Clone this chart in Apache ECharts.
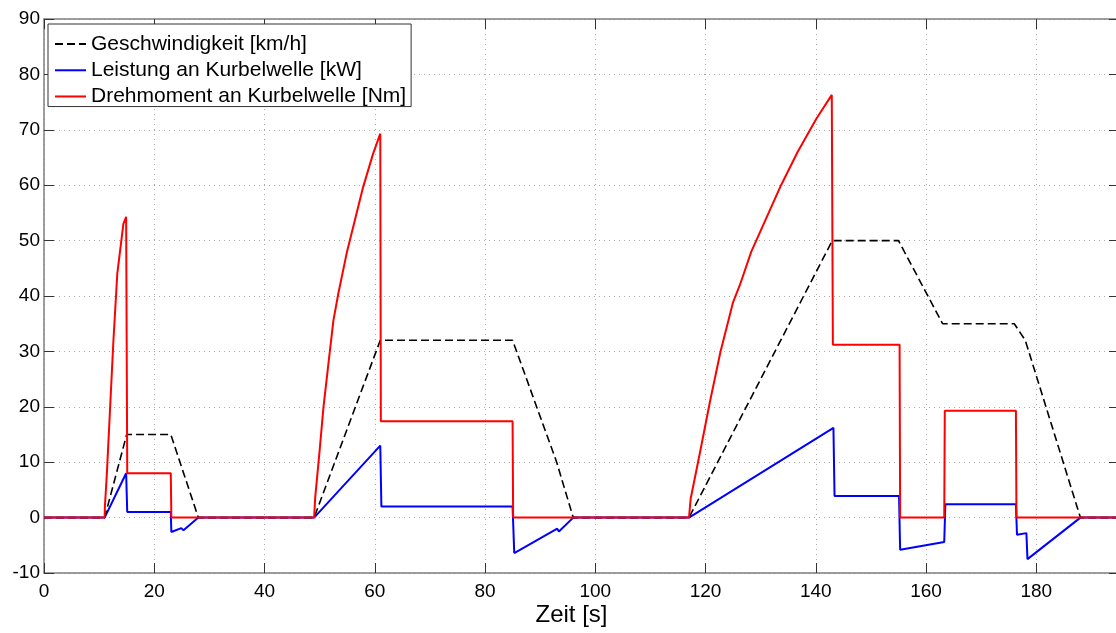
<!DOCTYPE html>
<html>
<head>
    <title>Geschwindigkeit, Leistung und Drehmoment</title>
    <script src="https://cdn.jsdelivr.net/npm/echarts/dist/echarts.min.js"></script>
    <style>
        html, body { margin: 0; padding: 0; background: #fff; }
    </style>
</head>
<body>
    <div id="main" style="width: 1116px;height:633px;"></div>
    <script type="text/javascript">
        // values (time in s)
        var speedT = [0, 11, 15, 23, 28, 49, 61, 85, 93, 96, 117, 143, 155, 163, 176, 178, 188, 195];
        var speedV = [0, 0, 15, 15, 0, 0, 32, 32, 10, 0, 0, 50, 50, 35, 35, 32, 0, 0];

        var powerT = [0, 11, 14.9, 15.1, 23, 23.1, 24.9, 25.3, 28, 49, 61, 61.2, 85, 85.3, 93.1, 93.4, 96,
                      117, 143.2, 143.4, 155.1, 155.3, 163.3, 163.5, 176.3, 176.5, 178.2, 178.4, 188, 195];
        var powerV = [0, 0, 8, 1, 1, -2.6, -1.9, -2.3, 0, 0, 13, 2, 2, -6.4, -2, -2.5, 0,
                      0, 16.2, 3.9, 3.9, -5.8, -4.4, 2.4, 2.4, -3.1, -2.8, -7.5, 0, 0];

        var torqueT = [0, 11, 11.05, 11.4, 12.0, 12.6, 13.3, 14.4, 14.9, 15.1, 23, 23.1,
                       49, 49.2, 49.95, 50.7, 51.8, 52.5, 53.4, 54.9, 56.4, 57.9, 59.7, 61, 61.1, 85, 85.1,
                       117, 117.3, 119.0, 120.8, 122.7, 125.0, 126.2, 128.3, 131.0, 133.7, 136.7, 140.1, 142.9, 143.1,
                       155.2, 155.3, 163.3, 163.4, 176.3, 176.4, 195];
        var torqueV = [0, 0, 2, 7.9, 20, 32.1, 44.1, 53, 54.3, 8, 8, 0,
                       0, 3.7, 11.6, 20.0, 29.6, 35.6, 40.5, 47.7, 53.7, 59.7, 65.7, 69.3, 17.4, 17.4, 0,
                       0, 3.4, 11.8, 20.9, 29.9, 38.9, 41.9, 48.0, 54.0, 60.0, 66.0, 72.0, 76.3, 31.2,
                       31.2, 0, 0, 19.3, 19.3, 0, 0];

        var names = ['Geschwindigkeit [km/h]', 'Leistung an Kurbelwelle [kW]', 'Drehmoment an Kurbelwelle [Nm]'];

        function pairs(t, v) {
            var out = [];
            for (var i = 0; i < t.length; i++) out.push([t[i], v[i]]);
            return out;
        }

        var font = 'Liberation Sans, Arial, sans-serif';
        var axisGray = '#7f7f7f';
        var gridGray = '#aaaaaa';

        var myChart = echarts.init(document.getElementById('main'));

        var option = {
            animation: false,
            textStyle: { fontFamily: font },
            grid: { left: 44, right: -3, top: 19, bottom: 60, outerBoundsMode: 'none', containLabel: false },
            legend: {
                orient: 'vertical',
                left: 48,
                top: 24,
                data: names,
                backgroundColor: '#fff',
                borderColor: '#333',
                borderWidth: 1,
                borderRadius: 0,
                padding: [2, 5, -8, 6],
                itemWidth: 31,
                itemHeight: 10,
                itemGap: -10,
                itemStyle: { opacity: 0 },
                textStyle: { fontSize: 21, color: '#000', fontFamily: font }
            },
            xAxis: [{
                type: 'value',
                min: 0,
                max: 195,
                interval: 20,
                name: 'Zeit [s]',
                nameLocation: 'middle',
                nameGap: 22,
                nameMoveOverlap: false,
                nameTextStyle: { fontSize: 24, color: '#000', padding: [0, 20, 0, 0] },
                axisLine: { onZero: false, lineStyle: { color: axisGray, width: 1.5 } },
                axisTick: { inside: true, length: 10, lineStyle: { color: '#333' } },
                axisLabel: {
                    fontSize: 19, color: '#000', margin: 2,
                    formatter: function (v) { return v % 20 === 0 ? v : ''; }
                },
                splitLine: { show: true, lineStyle: { color: gridGray, type: [1, 4] } }
            }, {
                type: 'value',
                position: 'top',
                min: 0,
                max: 195,
                interval: 20,
                axisLine: { show: true, onZero: false, lineStyle: { color: axisGray, width: 1.5 } },
                axisTick: { show: true, inside: true, length: 10, lineStyle: { color: '#333' } },
                axisLabel: { show: false },
                splitLine: { show: false }
            }],
            yAxis: [{
                type: 'value',
                min: -10,
                max: 90,
                interval: 10,
                axisLine: { show: true, onZero: false, lineStyle: { color: axisGray, width: 1.5 } },
                axisTick: { show: true, inside: true, length: 10, lineStyle: { color: '#333' } },
                axisLabel: { fontSize: 19, color: '#000', margin: 4 },
                splitLine: { show: true, lineStyle: { color: gridGray, type: [1, 4] } }
            }, {
                type: 'value',
                position: 'right',
                min: -10,
                max: 90,
                interval: 10,
                axisLine: { show: true, onZero: false, lineStyle: { color: axisGray, width: 1.5 } },
                axisTick: { show: true, inside: true, length: 10, lineStyle: { color: '#333' } },
                axisLabel: { show: false },
                splitLine: { show: false }
            }],
            series: [{
                name: names[0],
                type: 'line',
                symbol: 'none',
                data: pairs(speedT, speedV),
                lineStyle: { color: '#000', width: 1.6, type: [8, 4] },
                itemStyle: { color: '#000' },
                z: 3
            }, {
                name: names[1],
                type: 'line',
                symbol: 'none',
                data: pairs(powerT, powerV),
                lineStyle: { color: '#0000ff', width: 2 },
                itemStyle: { color: '#0000ff' },
                z: 2
            }, {
                name: names[2],
                type: 'line',
                symbol: 'none',
                data: pairs(torqueT, torqueV),
                lineStyle: { color: '#ff0000', width: 2 },
                itemStyle: { color: '#ff0000' },
                z: 4
            }]
        };

        myChart.setOption(option);
    </script>
</body>
</html>
